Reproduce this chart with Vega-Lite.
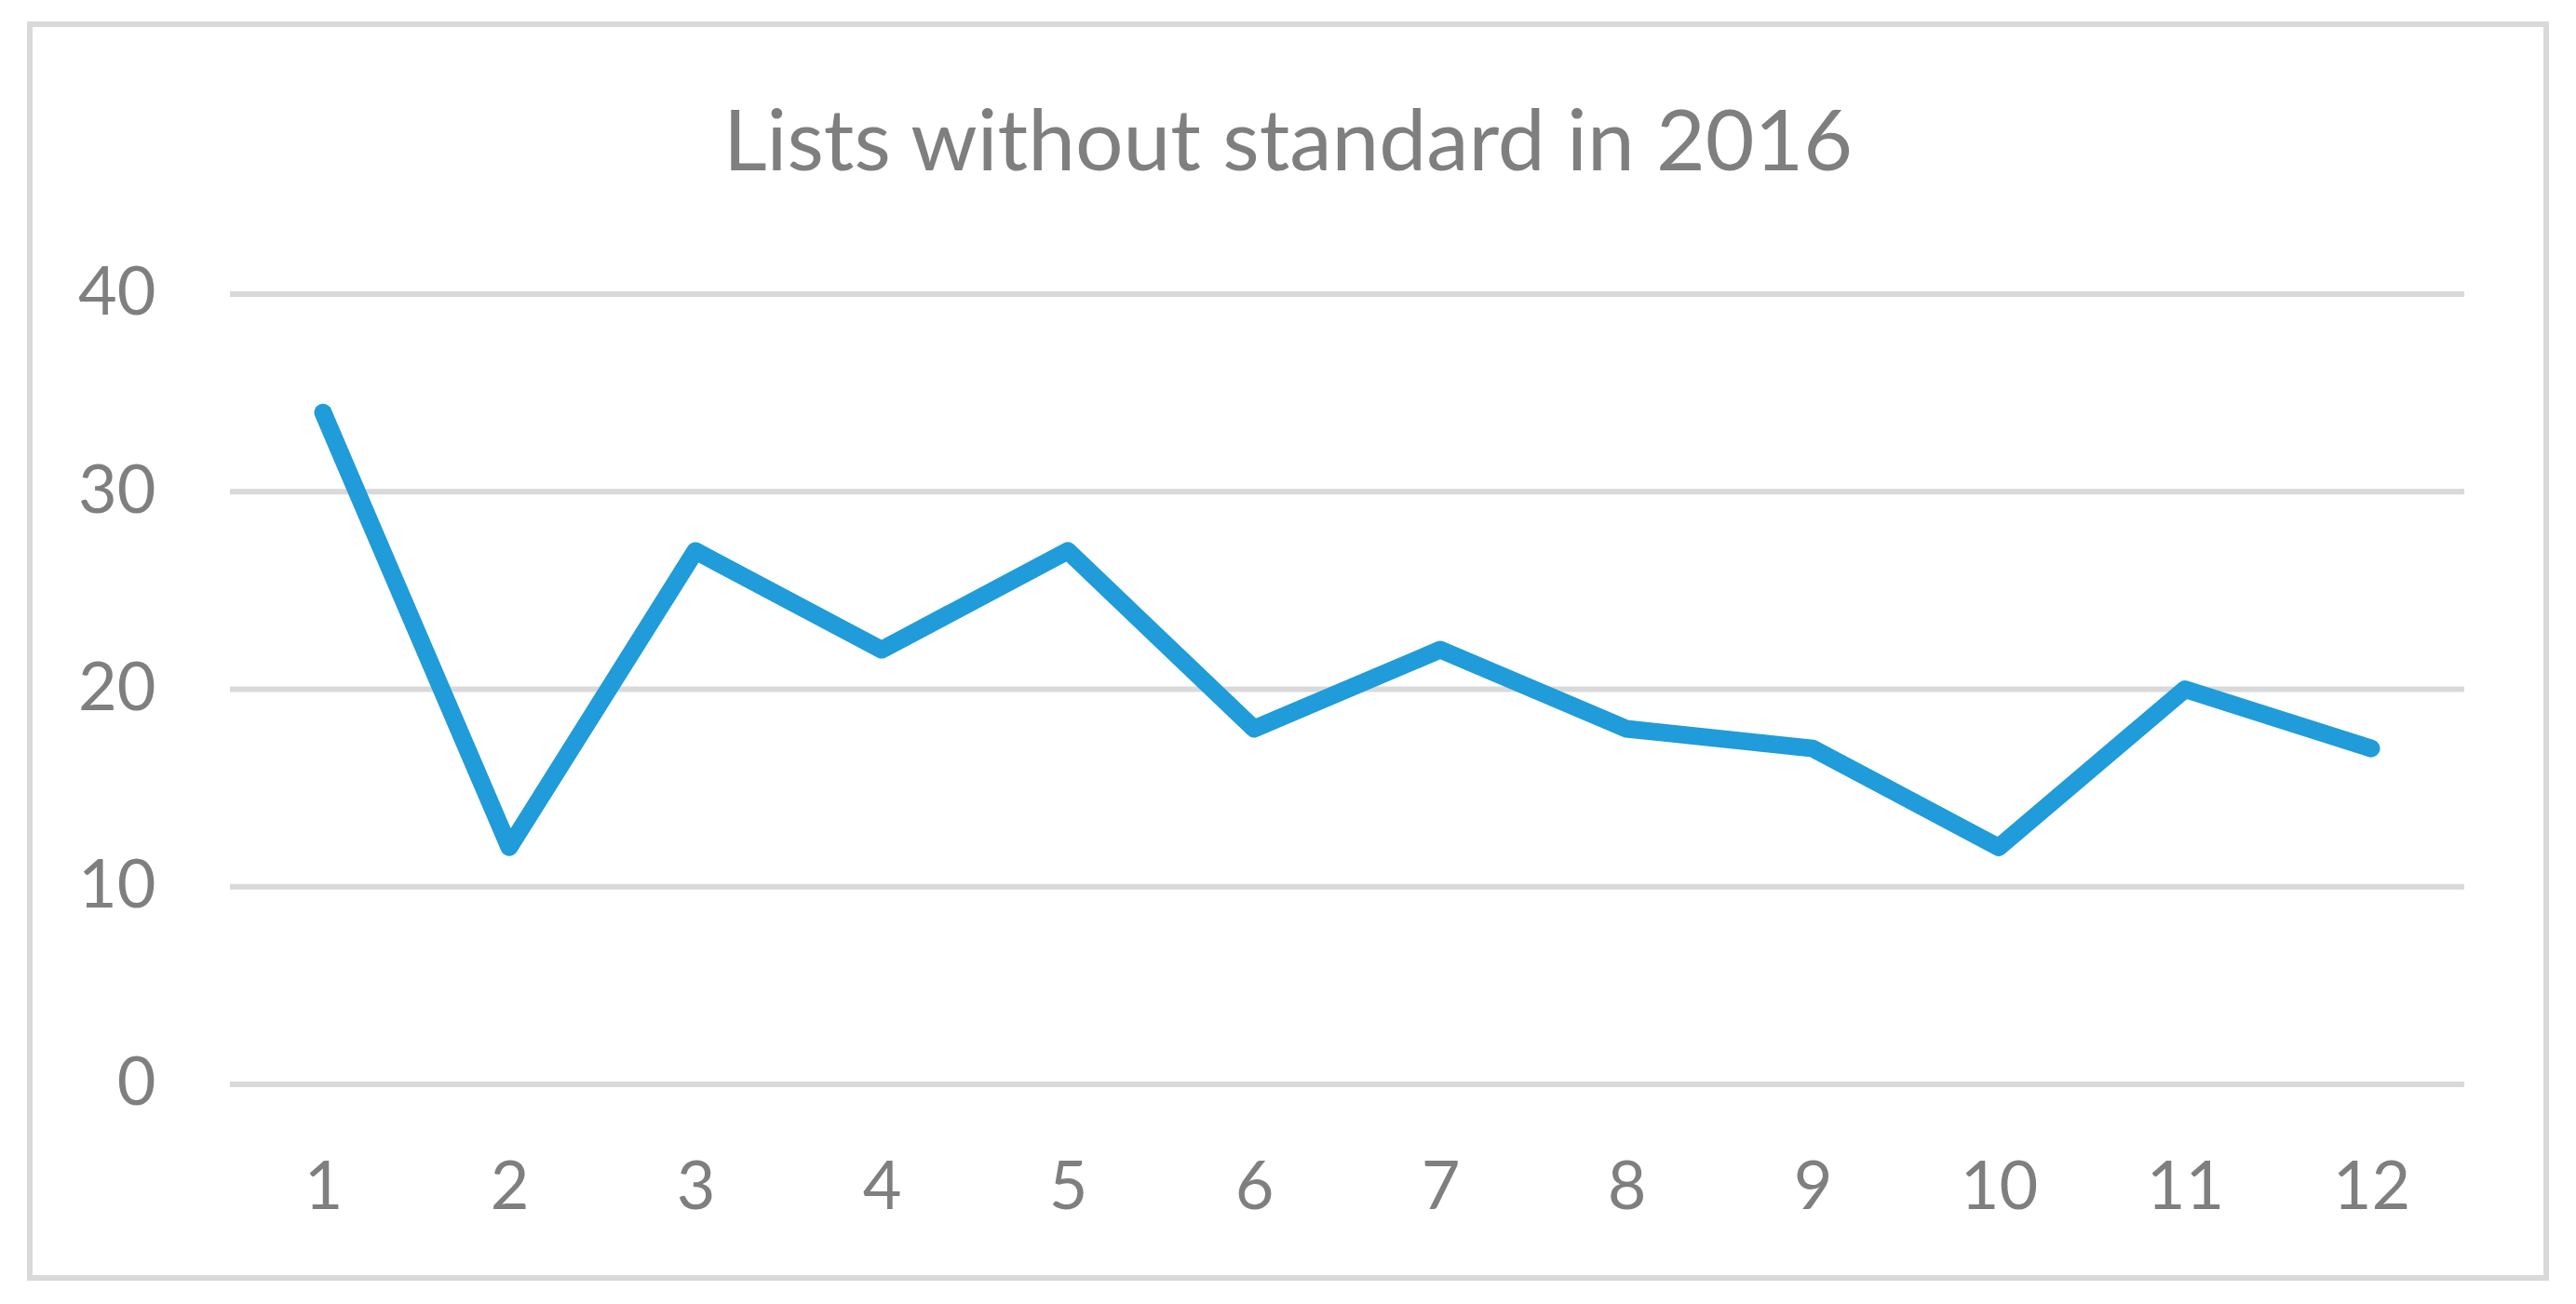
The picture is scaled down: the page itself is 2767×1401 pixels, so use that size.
{
  "$schema": "https://vega.github.io/schema/vega-lite/v6.json",
  "autosize": {"type": "none"},
  "padding": {"left": 32, "top": 26, "right": 32, "bottom": 28},
  "width": 2703,
  "height": 1347,
  "background": "white",
  "config": {"view": {"stroke": "#D9D9D9", "strokeWidth": 6}, "font": "Lato"},
  "title": {
    "text": "Lists without standard in 2016",
    "font": "Lato",
    "fontSize": 91,
    "fontWeight": "normal",
    "color": "#7F7F7F",
    "anchor": "middle",
    "frame": "group",
    "baseline": "alphabetic",
    "offset": -248
  },
  "datasets": {
    "grid": [{"v": 0}, {"v": 10}, {"v": 20}, {"v": 30}, {"v": 40}],
    "main": [
      {"month": 1, "count": 34},
      {"month": 2, "count": 12},
      {"month": 3, "count": 27},
      {"month": 4, "count": 22},
      {"month": 5, "count": 27},
      {"month": 6, "count": 18},
      {"month": 7, "count": 22},
      {"month": 8, "count": 18},
      {"month": 9, "count": 17},
      {"month": 10, "count": 12},
      {"month": 11, "count": 20},
      {"month": 12, "count": 17}
    ]
  },
  "layer": [
    {
      "data": {"name": "grid"},
      "mark": {"type": "rule", "color": "#D9D9D9", "strokeWidth": 6},
      "encoding": {
        "y": {
          "field": "v",
          "type": "quantitative",
          "scale": {"domain": [-9.8, 53.663], "nice": false, "zero": false},
          "axis": {
            "orient": "left",
            "offset": -135,
            "labelPadding": 0,
            "ticks": false,
            "domain": false,
            "grid": false,
            "values": [0, 10, 20, 30, 40],
            "format": "d",
            "labelFontSize": 72,
            "labelColor": "#7F7F7F",
            "labelFont": "Lato",
            "title": null
          }
        },
        "x": {
          "datum": 0.5,
          "type": "quantitative",
          "scale": {"domain": [-0.575, 12.94], "nice": false, "zero": false},
          "axis": {
            "orient": "bottom",
            "offset": -75,
            "labelPadding": 0,
            "ticks": false,
            "domain": false,
            "grid": false,
            "values": [1, 2, 3, 4, 5, 6, 7, 8, 9, 10, 11, 12],
            "format": "d",
            "labelBaseline": "alphabetic",
            "labelFontSize": 72,
            "labelColor": "#7F7F7F",
            "labelFont": "Lato",
            "labelFlush": false,
            "labelOverlap": false,
            "title": null
          }
        },
        "x2": {"datum": 12.5}
      }
    },
    {
      "data": {"name": "main"},
      "mark": {"type": "line", "color": "#1F9CD9", "strokeWidth": 19, "strokeCap": "round", "strokeJoin": "round"},
      "encoding": {
        "x": {"field": "month", "type": "quantitative", "axis": {"title": null}},
        "y": {"field": "count", "type": "quantitative", "axis": {"title": null}}
      }
    }
  ]
}
